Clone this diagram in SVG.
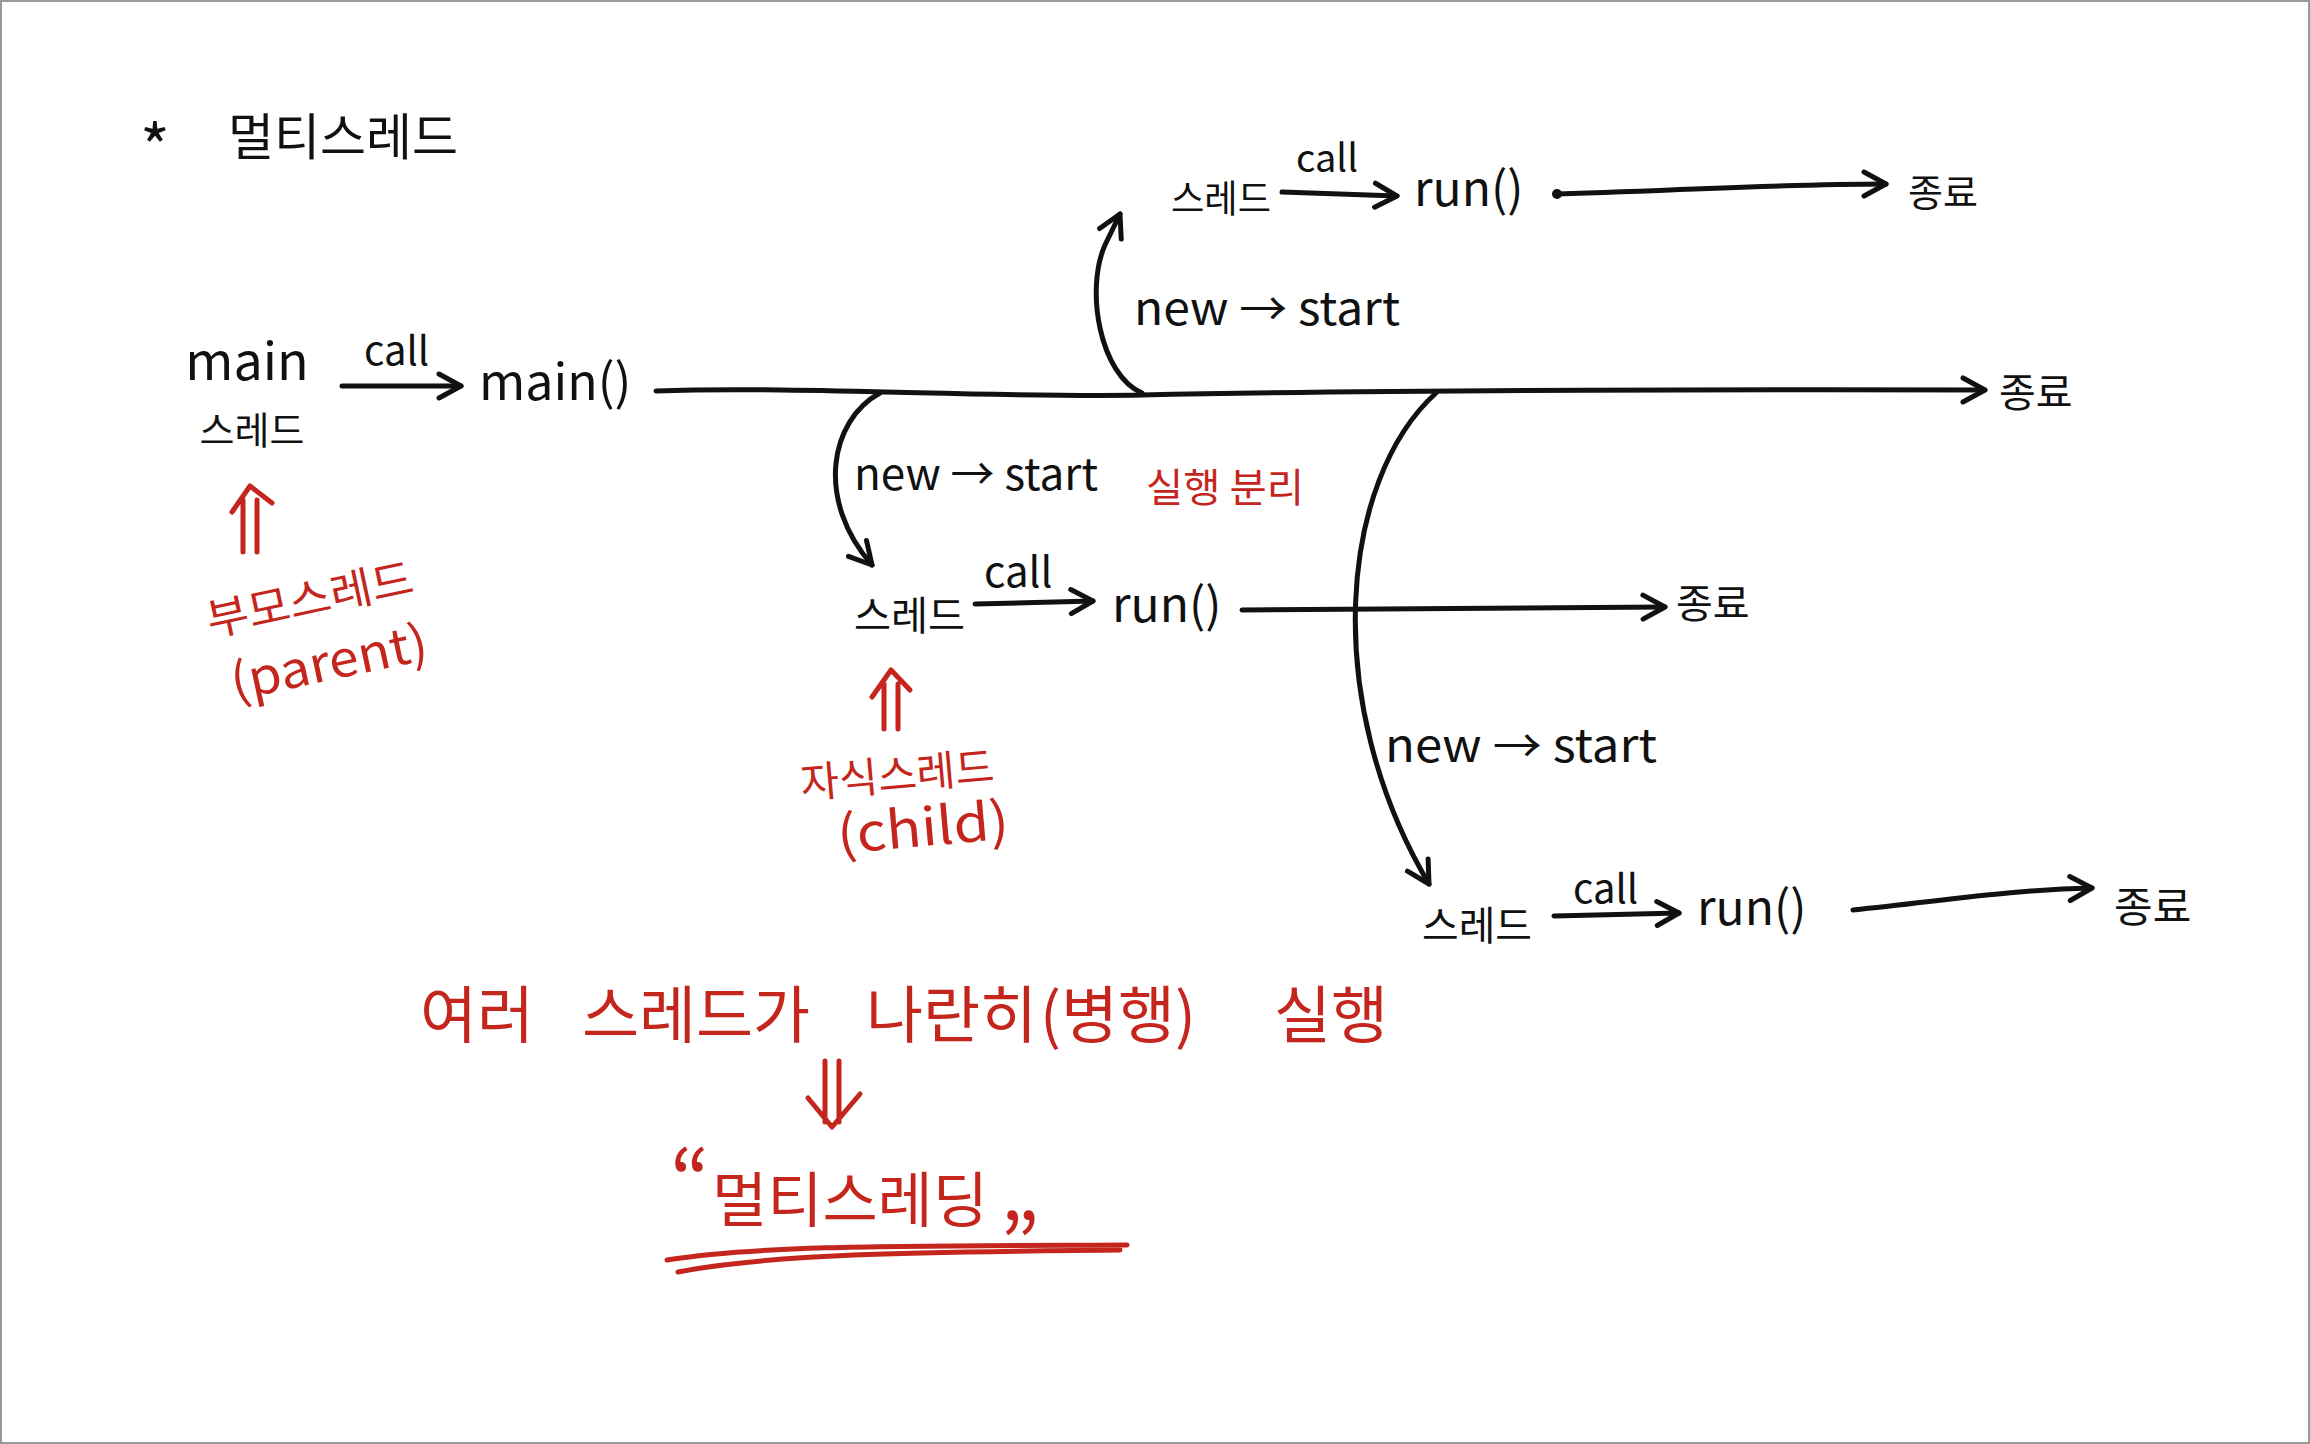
<svg xmlns="http://www.w3.org/2000/svg" width="2310" height="1444" viewBox="0 0 2310 1444">
<style>
text{font-family:"Noto Sans CJK KR","Noto Sans",sans-serif;}
.k{fill:#111;}
.r{fill:#C4261D;}
.ln{fill:none;stroke:#111;stroke-width:5;stroke-linecap:round;}
.rl{fill:none;stroke:#C4261D;stroke-width:5;stroke-linecap:round;stroke-linejoin:round;}
</style>
<defs>
<marker id="ah" viewBox="0 0 30 30" refX="27" refY="15" markerWidth="30" markerHeight="30" markerUnits="userSpaceOnUse" orient="auto">
<path d="M5,3 L27,15 L5,27" fill="none" stroke="#111" stroke-width="5" stroke-linecap="round" stroke-linejoin="round"/>
</marker>
</defs>
<rect x="0" y="0" width="2310" height="1444" fill="#fff"/>
<rect x="1" y="1" width="2308" height="1442" fill="none" stroke="#999" stroke-width="2"/>

<g id="title">
<text class="k" x="140" y="172" font-size="64">*</text>
<text class="k" x="228" y="155" font-size="50">멀티스레드</text>
</g>

<g id="connectors">
<path class="ln" d="M342,386 L461,386" marker-end="url(#ah)"/>
<path class="ln" d="M656,391 C800,386 1000,398 1142,395 S1500,389 1985,390" marker-end="url(#ah)"/>
<path class="ln" d="M1142,393 C1100,375 1085,290 1105,245 L1120,214" marker-end="url(#ah)"/>
<path class="ln" d="M1282,192 L1397,196" marker-end="url(#ah)"/>
<circle cx="1557" cy="194" r="5" fill="#111"/>
<path class="ln" d="M1557,194 C1700,190 1780,184 1886,184" marker-end="url(#ah)"/>
<path class="ln" d="M880,393 C830,420 815,500 872,565" marker-end="url(#ah)"/>
<path class="ln" d="M975,604 L1093,601" marker-end="url(#ah)"/>
<path class="ln" d="M1242,610 L1665,607" marker-end="url(#ah)"/>
<path class="ln" d="M1436,393 C1340,480 1320,700 1429,884" marker-end="url(#ah)"/>
<path class="ln" d="M1554,916 L1679,913" marker-end="url(#ah)"/>
<path class="ln" d="M1853,910 C1950,900 2010,890 2092,888" marker-end="url(#ah)"/>
</g>

<g id="main-thread">
<text class="k" x="247" y="380" font-size="52" text-anchor="middle">main</text>
<text class="k" x="252" y="444" font-size="38" text-anchor="middle">스레드</text>
</g>
<g id="call-1"><text class="k" x="364" y="365" font-size="40">call</text></g>
<g id="main-method"><text class="k" x="479" y="400" font-size="50">main()</text></g>
<g id="end-main"><text class="k" x="1999" y="407" font-size="40">종료</text></g>

<g id="thread-a">
<text class="k" x="1171" y="212" font-size="38" textLength="100" lengthAdjust="spacingAndGlyphs">스레드</text>
<text class="k" x="1296" y="172" font-size="38">call</text>
<text class="k" x="1414" y="206" font-size="48">run()</text>
<text class="k" x="1908" y="206" font-size="38">종료</text>
<text class="k" x="1134" y="325" font-size="46" textLength="266" lengthAdjust="spacingAndGlyphs">new → start</text>
</g>

<g id="thread-b">
<text class="k" x="854" y="490" font-size="44" textLength="244" lengthAdjust="spacingAndGlyphs">new → start</text>
<text class="r" x="1146" y="502" font-size="40" textLength="158" lengthAdjust="spacingAndGlyphs">실행 분리</text>
<text class="k" x="854" y="630" font-size="40" textLength="111" lengthAdjust="spacingAndGlyphs">스레드</text>
<text class="k" x="984" y="587" font-size="42">call</text>
<text class="k" x="1112" y="622" font-size="48">run()</text>
<text class="k" x="1676" y="618" font-size="40">종료</text>
</g>

<g id="thread-c">
<text class="k" x="1385" y="762" font-size="46" textLength="272" lengthAdjust="spacingAndGlyphs">new → start</text>
<text class="k" x="1422" y="940" font-size="40" textLength="110" lengthAdjust="spacingAndGlyphs">스레드</text>
<text class="k" x="1573" y="903" font-size="40">call</text>
<text class="k" x="1697" y="925" font-size="48">run()</text>
<text class="k" x="2114" y="922" font-size="42">종료</text>
</g>

<g id="parent-note">
<path class="rl" d="M243,552 L243,500 M257,552 L257,500 M232,512 L250,486 L272,503"/>
<text class="r" x="310" y="615" font-size="44" text-anchor="middle" textLength="210" lengthAdjust="spacingAndGlyphs" transform="rotate(-12 310 600)">부모스레드</text>
<text class="r" x="329" y="680" font-size="50" text-anchor="middle" textLength="200" lengthAdjust="spacingAndGlyphs" transform="rotate(-12 329 663)">(parent)</text>
</g>

<g id="child-note">
<path class="rl" d="M884,729 L884,684 M898,729 L898,684 M872,697 L891,670 L910,690"/>
<text class="r" x="897" y="790" font-size="42" text-anchor="middle" textLength="194" lengthAdjust="spacingAndGlyphs" transform="rotate(-5 897 773)">자식스레드</text>
<text class="r" x="923" y="846" font-size="52" text-anchor="middle" textLength="172" lengthAdjust="spacingAndGlyphs" transform="rotate(-5 923 829)">(child)</text>
</g>

<g id="summary">
<text class="r" y="1038" font-size="62"><tspan x="420">여러</tspan><tspan x="582">스레드가</tspan><tspan x="866">나란히</tspan><tspan x="1040">(병행)</tspan><tspan x="1274">실행</tspan></text>
<path class="rl" d="M825,1061 L825,1122 M839,1061 L839,1122 M808,1098 L832,1127 L860,1094"/>
<text class="r" x="670" y="1212" font-size="84"><tspan>“</tspan></text>
<text class="r" x="712" y="1222" font-size="60">멀티스레딩</text>
<text class="r" x="1000" y="1276" font-size="84">”</text>
<path class="rl" d="M667,1260 C760,1245 900,1246 1127,1245"/>
<path class="rl" d="M678,1272 C780,1252 950,1252 1120,1250" stroke-width="4"/>
</g>
</svg>
